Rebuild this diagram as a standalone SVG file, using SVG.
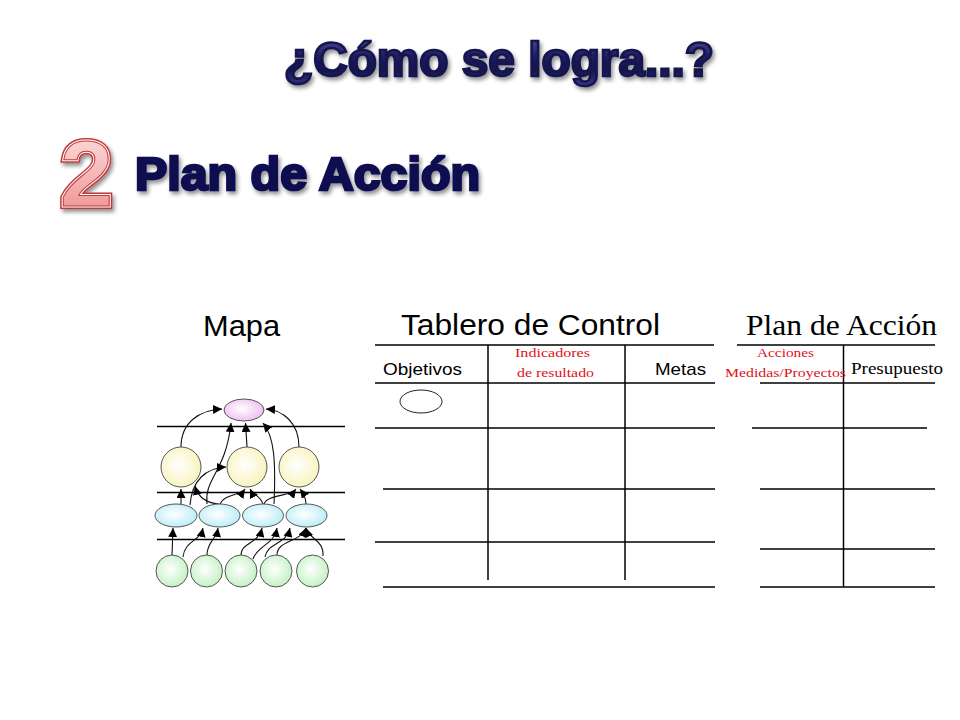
<svg xmlns="http://www.w3.org/2000/svg" width="960" height="720" viewBox="0 0 960 720">
<defs>
<style>
.ln{stroke:#000;stroke-width:1.5;fill:none}
.ml{stroke:#000;stroke-width:1.3;fill:none}
.cn{stroke:#111;stroke-width:1.1;fill:none;marker-end:url(#ah)}
.nd{stroke:#555;stroke-width:1}
.sans{font-family:"Liberation Sans",Arial,sans-serif}
.serif{font-family:"Liberation Serif","Times New Roman",serif}
.red{fill:#e01020;font-size:13.5px}
</style>
<marker id="ah" markerUnits="userSpaceOnUse" markerWidth="10" markerHeight="9" refX="9" refY="4.5" orient="auto">
<path d="M0,0 L9,4.5 L0,9 z" fill="#000"/>
</marker>
<radialGradient id="gPink" cx="0.45" cy="0.45" r="0.6"><stop offset="0" stop-color="#ffffff"/><stop offset="1" stop-color="#eebaf0"/></radialGradient>
<radialGradient id="gYel" cx="0.45" cy="0.45" r="0.6"><stop offset="0" stop-color="#ffffff"/><stop offset="1" stop-color="#f7f3b8"/></radialGradient>
<radialGradient id="gBlu" cx="0.45" cy="0.45" r="0.6"><stop offset="0" stop-color="#ffffff"/><stop offset="1" stop-color="#b8ecf6"/></radialGradient>
<radialGradient id="gGrn" cx="0.45" cy="0.45" r="0.6"><stop offset="0" stop-color="#ffffff"/><stop offset="1" stop-color="#c0f0c0"/></radialGradient>
<linearGradient id="gNavy" x1="0" y1="0" x2="0" y2="1"><stop offset="0" stop-color="#5656a8"/><stop offset="0.45" stop-color="#1c1c62"/><stop offset="0.7" stop-color="#14144e"/><stop offset="1" stop-color="#3a3a88"/></linearGradient>
<linearGradient id="gTwo" x1="0" y1="0" x2="0" y2="1"><stop offset="0" stop-color="#fde4e4"/><stop offset="1" stop-color="#ee8a8a"/></linearGradient>
<filter id="sh" x="-10%" y="-20%" width="120%" height="150%"><feGaussianBlur in="SourceAlpha" stdDeviation="2"/><feOffset dx="2" dy="3"/><feComponentTransfer><feFuncA type="linear" slope="0.45"/></feComponentTransfer><feMerge><feMergeNode/><feMergeNode in="SourceGraphic"/></feMerge></filter>
</defs>
<rect width="960" height="720" fill="#fff"/>

<g id="title" filter="url(#sh)">
<text class="sans" x="284" y="76" font-size="48" font-weight="bold" textLength="430" lengthAdjust="spacingAndGlyphs" fill="url(#gNavy)" stroke="#14144e" stroke-width="2.6">¿Cómo se logra...?</text>
</g>

<g id="number-2" filter="url(#sh)">
<text class="sans" x="60" y="206" font-size="92" font-weight="bold" textLength="53" lengthAdjust="spacingAndGlyphs" fill="none" stroke="#c23a3a" stroke-width="6">2</text>
<text class="sans" x="60" y="206" font-size="92" font-weight="bold" textLength="53" lengthAdjust="spacingAndGlyphs" fill="none" stroke="#ffffff" stroke-width="3">2</text>
<text class="sans" x="60" y="206" font-size="92" font-weight="bold" textLength="53" lengthAdjust="spacingAndGlyphs" fill="url(#gTwo)" stroke="#c23a3a" stroke-width="1">2</text>
</g>

<g id="subtitle" filter="url(#sh)">
<text class="sans" x="135" y="190" font-size="46" font-weight="bold" textLength="345" lengthAdjust="spacingAndGlyphs" fill="#0c0c50" stroke="#0c0c50" stroke-width="2.6">Plan de Acción</text>
</g>

<g id="headings">
<text class="sans" x="203" y="336" font-size="30" fill="#000" textLength="77" lengthAdjust="spacingAndGlyphs">Mapa</text>
<text class="sans" x="401" y="335" font-size="30" fill="#000" textLength="259" lengthAdjust="spacingAndGlyphs">Tablero  de Control</text>
<text class="serif" x="746" y="335" font-size="30" fill="#000" textLength="191" lengthAdjust="spacingAndGlyphs">Plan de Acción</text>
</g>

<g id="map-lines">
<line class="ml" x1="157" y1="426.5" x2="345" y2="426.5"/>
<line class="ml" x1="157" y1="492.5" x2="345" y2="492.5"/>
<line class="ml" x1="157" y1="539.5" x2="345" y2="539.5"/>
</g>

<g id="connectors">
<path class="cn" d="M181,447 C181,422 200,410 222,409"/>
<path class="cn" d="M247,447 L245.5,423"/>
<path class="cn" d="M299,447 C299,422 282,410 266,409"/>
<path class="cn" d="M207,504 C204,478 226,472 231,423"/>
<path class="cn" d="M274,504 C276,460 274,436 263,423"/>
<path class="cn" d="M181,504 L181,489"/>
<path class="cn" d="M190,505 C192,480 206,468 226,467"/>
<path class="cn" d="M219,504 C205,503 198,497 195,486"/>
<path class="cn" d="M220,504 C224,494 240,496 245,489"/>
<path class="cn" d="M263,504 C260,495 253,495 250,489"/>
<path class="cn" d="M264,504 C268,494 290,497 296,489"/>
<path class="cn" d="M306,504 C306,497 303,493 300,489"/>
<path class="cn" d="M172,555 L173,528"/>
<path class="cn" d="M183,557 C185,540 200,542 203,528"/>
<path class="cn" d="M207,555 C207,542 216,540 218,528"/>
<path class="cn" d="M241,555 C241,542 258,545 262,528"/>
<path class="cn" d="M253,559 C258,545 274,545 277,528"/>
<path class="cn" d="M265,557 C268,542 286,545 290,528"/>
<path class="cn" d="M277,555 C277,540 300,543 306,528"/>
<path class="cn" d="M323,556 C324,540 310,540 306,528"/>
</g>

<g id="node-pink"><ellipse class="nd" cx="244" cy="410" rx="20" ry="11" fill="url(#gPink)"/></g>
<g id="node-y1"><circle class="nd" cx="181" cy="467" r="20" fill="url(#gYel)"/></g>
<g id="node-y2"><circle class="nd" cx="247" cy="467" r="20" fill="url(#gYel)"/></g>
<g id="node-y3"><circle class="nd" cx="299" cy="467" r="20" fill="url(#gYel)"/></g>
<g id="node-b1"><ellipse class="nd" cx="176" cy="515.5" rx="21" ry="11.5" fill="url(#gBlu)"/></g>
<g id="node-b2"><ellipse class="nd" cx="219.5" cy="515.5" rx="20.5" ry="11.5" fill="url(#gBlu)"/></g>
<g id="node-b3"><ellipse class="nd" cx="263" cy="515.5" rx="20.5" ry="11.5" fill="url(#gBlu)"/></g>
<g id="node-b4"><ellipse class="nd" cx="306.5" cy="515.5" rx="20.5" ry="11.5" fill="url(#gBlu)"/></g>
<g id="node-g1"><circle class="nd" cx="172" cy="571" r="16" fill="url(#gGrn)"/></g>
<g id="node-g2"><circle class="nd" cx="206.5" cy="571" r="16" fill="url(#gGrn)"/></g>
<g id="node-g3"><circle class="nd" cx="241" cy="571" r="16" fill="url(#gGrn)"/></g>
<g id="node-g4"><circle class="nd" cx="276" cy="571" r="16" fill="url(#gGrn)"/></g>
<g id="node-g5"><circle class="nd" cx="312.5" cy="571" r="16" fill="url(#gGrn)"/></g>

<g id="tablero">
<line class="ln" x1="375" y1="345" x2="714" y2="345"/>
<line class="ln" x1="375" y1="383" x2="715" y2="383"/>
<line class="ln" x1="375" y1="428" x2="715" y2="428"/>
<line class="ln" x1="383" y1="489" x2="715" y2="489"/>
<line class="ln" x1="375" y1="542" x2="715" y2="542"/>
<line class="ln" x1="383" y1="587" x2="715" y2="587"/>
<line class="ln" x1="488" y1="345" x2="488" y2="580"/>
<line class="ln" x1="625" y1="345" x2="625" y2="580"/>
<ellipse cx="421" cy="401.5" rx="21" ry="11.5" fill="#fff" stroke="#222" stroke-width="1"/>
<text class="sans" x="383" y="375" font-size="17" fill="#000" textLength="79" lengthAdjust="spacingAndGlyphs">Objetivos</text>
<text class="sans" x="655" y="375" font-size="17" fill="#000" textLength="51" lengthAdjust="spacingAndGlyphs">Metas</text>
<text class="serif red" x="515" y="357" textLength="75" lengthAdjust="spacingAndGlyphs">Indicadores</text>
<text class="serif red" x="517" y="377" textLength="77" lengthAdjust="spacingAndGlyphs">de resultado</text>
</g>

<g id="plan-accion">
<line class="ln" x1="737" y1="345" x2="935" y2="345"/>
<line class="ln" x1="760" y1="383" x2="935" y2="383"/>
<line class="ln" x1="752" y1="428" x2="927" y2="428"/>
<line class="ln" x1="760" y1="489" x2="935" y2="489"/>
<line class="ln" x1="760" y1="549" x2="935" y2="549"/>
<line class="ln" x1="760" y1="587" x2="935" y2="587"/>
<line class="ln" x1="843.5" y1="345" x2="843.5" y2="587"/>
<text class="serif red" x="757" y="357" textLength="57" lengthAdjust="spacingAndGlyphs">Acciones</text>
<text class="serif red" x="725" y="377" textLength="121" lengthAdjust="spacingAndGlyphs">Medidas/Proyectos</text>
<text class="serif" x="851" y="374" font-size="16" fill="#000" textLength="92" lengthAdjust="spacingAndGlyphs">Presupuesto</text>
</g>
</svg>
